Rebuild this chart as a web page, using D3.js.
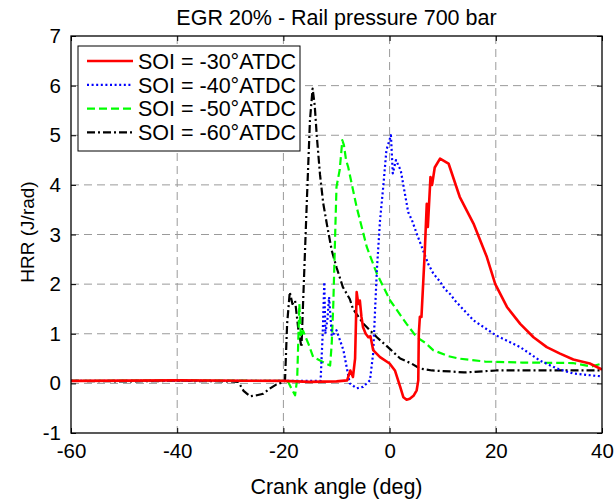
<!DOCTYPE html>
<html>
<head>
<meta charset="utf-8">
<script src="https://cdn.jsdelivr.net/npm/d3@7"></script>
<style>
  body { margin: 0; background: #fff; }
  text { font-family: "Liberation Sans", Arial, Helvetica, sans-serif; fill: #000; }
</style>
</head>
<body>
<div id="chart"></div>
<script>
// Crank angle (deg) / HRR (J/rad), one pair of arrays per SOI
var soi30Angle = [-60, -40, -20, -15, -10, -8.0, -7.4, -6.9, -6.5, -6.2, -5.9, -5.6, -5.3, -5.0, -4.5, -4.0, -3.6, -3.1, -1.8, 0, 1.0, 2.0, 2.6, 3.2, 3.8, 4.5, 5.1, 5.4, 5.5, 5.7, 6.0, 6.6, 7.0, 7.2, 7.7, 8.0, 8.5, 9.5, 11.1, 13.2, 15.8, 18.3, 19.9, 22.1, 24.6, 27.1, 29.6, 32.1, 34.6, 37.7, 40];
var soi30Hrr = [0.05, 0.06, 0.05, 0.03, 0.04, 0.06, 0.26, 0.13, 0.5, 1.84, 1.6, 1.67, 1.34, 1.13, 1.0, 0.93, 0.95, 0.67, 0.53, 0.4, 0.26, -0.07, -0.28, -0.33, -0.31, -0.25, -0.14, 0.06, 1.0, 1.34, 1.34, 2.6, 3.62, 3.15, 4.16, 4.0, 4.35, 4.53, 4.43, 3.76, 3.22, 2.55, 2.0, 1.54, 1.2, 0.93, 0.73, 0.6, 0.48, 0.4, 0.28];

var soi40Angle = [-60, -40, -20, -13, -12.6, -12.3, -12.1, -11.7, -11.4, -11.1, -10.9, -10.0, -8.7, -7.5, -6.2, -5.0, -3.7, -3.1, -2.4, -1.8, -1.2, -0.6, 0.25, 0.6, 1.2, 2.1, 3.5, 4.2, 5.1, 7.3, 8.2, 9.5, 10.4, 11.4, 12.3, 15.8, 20, 24.6, 28.3, 31.5, 34.5, 40];
var soi40Hrr = [0.05, 0.05, 0.05, 0.05, 1.0, 2.04, 1.0, 1.3, 1.74, 1.3, 0.95, 1.07, 0.67, 0.0, -0.1, -0.07, 0.06, 0.6, 2.28, 3.29, 3.96, 4.7, 5.0, 4.23, 4.5, 4.29, 3.45, 3.29, 3.02, 2.4, 2.22, 2.05, 1.9, 1.8, 1.67, 1.27, 0.97, 0.73, 0.46, 0.3, 0.2, 0.14];

var soi50Angle = [-60, -40, -20, -19.1, -18.5, -17.8, -17.4, -17.0, -16.7, -16.3, -15.3, -14.4, -13.1, -12, -11.2, -10.9, -10.6, -10.2, -10.0, -9.4, -8.9, -8.6, -8.2, -7.8, -6.2, -4.3, -2.4, 0.1, 3.2, 5.1, 6.7, 8.2, 11, 13, 18, 25, 34.5, 38, 40];
var soi50Hrr = [0.05, 0.06, 0.05, 0.03, -0.1, -0.24, 0.1, 1.6, 0.93, 1.06, 0.8, 0.53, 0.46, 0.4, 0.36, 0.8, 1.6, 3.2, 3.96, 4.3, 4.9, 4.8, 4.5, 4.36, 3.55, 2.75, 2.21, 1.67, 1.2, 0.93, 0.82, 0.67, 0.55, 0.5, 0.44, 0.42, 0.41, 0.34, 0.4];

var soi60Angle = [-60, -50, -40, -30, -28.5, -27.5, -26.3, -25, -23.8, -22.5, -21.3, -20.2, -19.7, -19.3, -18.8, -18.3, -17.8, -17.2, -16.6, -16.3, -15.6, -15.0, -14.5, -14.1, -13.7, -13.1, -12.5, -11.8, -10.9, -10.0, -8.8, -7.5, -6.9, -5.0, -2.4, 0, 2.0, 4.1, 5.7, 8, 11.4, 14, 20, 30, 40];
var soi60Hrr = [0.05, 0.04, 0.05, 0.04, 0.03, -0.15, -0.26, -0.24, -0.21, -0.1, -0.02, 0.02, 0.05, 1.2, 1.84, 1.6, 1.67, 1.1, 0.73, 1.6, 3.63, 5.3, 5.94, 5.6, 4.97, 4.2, 3.63, 3.2, 2.68, 2.34, 1.94, 1.7, 1.5, 1.21, 0.93, 0.7, 0.5, 0.4, 0.3, 0.26, 0.24, 0.22, 0.26, 0.26, 0.26];

var seriesNames = ["SOI = -30\u00b0ATDC", "SOI = -40\u00b0ATDC", "SOI = -50\u00b0ATDC", "SOI = -60\u00b0ATDC"];
var xTicks = [-60, -40, -20, 0, 20, 40];
var yTicks = [-1, 0, 1, 2, 3, 4, 5, 6, 7];

var width = 615, height = 499;
var margin = { top: 36, right: 13, bottom: 66, left: 71 };

var svg = d3.select("#chart").append("svg")
  .attr("width", width)
  .attr("height", height);

var x = d3.scaleLinear().domain([-60, 40]).range([margin.left, width - margin.right]);
var y = d3.scaleLinear().domain([-1, 7]).range([height - margin.bottom, margin.top]);

var series = [
  { name: seriesNames[0], angle: soi30Angle, hrr: soi30Hrr, color: "#ff0000", width: 2.6, dash: null },
  { name: seriesNames[1], angle: soi40Angle, hrr: soi40Hrr, color: "#0000ff", width: 2.2, dash: "2,2.6" },
  { name: seriesNames[2], angle: soi50Angle, hrr: soi50Hrr, color: "#00ff00", width: 2.2, dash: "8,4" },
  { name: seriesNames[3], angle: soi60Angle, hrr: soi60Hrr, color: "#000000", width: 2.2, dash: "8,3,2,3" }
];

// grid
svg.append("g")
  .selectAll("line.vgrid")
  .data(xTicks.slice(1, -1))
  .enter().append("line")
  .attr("x1", d => x(d)).attr("x2", d => x(d))
  .attr("y1", y(7)).attr("y2", y(-1))
  .attr("stroke", "#9a9a9a").attr("stroke-dasharray", "8,5");
svg.append("g")
  .selectAll("line.hgrid")
  .data(yTicks.slice(1, -1))
  .enter().append("line")
  .attr("x1", x(-60)).attr("x2", x(40))
  .attr("y1", d => y(d)).attr("y2", d => y(d))
  .attr("stroke", "#9a9a9a").attr("stroke-dasharray", "8,5");

// curves
var line = d3.line()
  .x(d => x(d[0]))
  .y(d => y(d[1]));

svg.append("defs").append("clipPath").attr("id", "clip")
  .append("rect")
  .attr("x", x(-60)).attr("y", y(7))
  .attr("width", x(40) - x(-60)).attr("height", y(-1) - y(7));

series.slice().reverse().forEach(function (s) {
  var pts = s.angle.map((a, i) => [a, s.hrr[i]]);
  svg.append("path")
    .datum(pts)
    .attr("clip-path", "url(#clip)")
    .attr("fill", "none")
    .attr("stroke", s.color)
    .attr("stroke-width", s.width)
    .attr("stroke-dasharray", s.dash)
    .attr("stroke-linejoin", "round")
    .attr("d", line);
});

// axes with inward ticks on all four sides, plain hyphen for minus
var tickLen = 5;
var fmt = d => String(d);
svg.append("g")
  .attr("transform", "translate(0," + y(-1) + ")")
  .call(d3.axisBottom(x).tickValues(xTicks).tickSize(-tickLen).tickPadding(10).tickFormat(fmt))
  .call(g => g.select(".domain").remove())
  .selectAll("text").style("font-size", "20.5px");
svg.append("g")
  .attr("transform", "translate(0," + y(7) + ")")
  .call(d3.axisTop(x).tickValues(xTicks).tickSize(-tickLen).tickFormat(""))
  .call(g => g.select(".domain").remove());
svg.append("g")
  .attr("transform", "translate(" + x(-60) + ",0)")
  .call(d3.axisLeft(y).tickValues(yTicks).tickSize(-tickLen).tickPadding(10).tickFormat(fmt))
  .call(g => g.select(".domain").remove())
  .selectAll("text").style("font-size", "20.5px");
svg.append("g")
  .attr("transform", "translate(" + x(40) + ",0)")
  .call(d3.axisRight(y).tickValues(yTicks).tickSize(-tickLen).tickFormat(""))
  .call(g => g.select(".domain").remove());

svg.selectAll(".tick line").attr("stroke", "#000");
svg.selectAll(".tick text").style("font-family", "'Liberation Sans', Arial, sans-serif");

svg.append("rect")
  .attr("x", x(-60)).attr("y", y(7))
  .attr("width", x(40) - x(-60)).attr("height", y(-1) - y(7))
  .attr("fill", "none").attr("stroke", "#000").attr("stroke-width", 1.3);

// title and labels
svg.append("text")
  .attr("x", (x(-60) + x(40)) / 2).attr("y", 25)
  .attr("text-anchor", "middle")
  .style("font-size", "21.5px")
  .text("EGR 20% - Rail pressure 700 bar");
svg.append("text")
  .attr("x", (x(-60) + x(40)) / 2).attr("y", 494)
  .attr("text-anchor", "middle")
  .style("font-size", "21.5px")
  .text("Crank angle (deg)");
svg.append("text")
  .attr("transform", "translate(34," + 232 + ") rotate(-90)")
  .attr("text-anchor", "middle")
  .style("font-size", "19px")
  .text("HRR (J/rad)");

// legend
var legend = svg.append("g").attr("transform", "translate(78,46)");
legend.append("rect")
  .attr("width", 222).attr("height", 105)
  .attr("fill", "#fff").attr("stroke", "#000").attr("stroke-width", 1);
var rows = legend.selectAll("g.row")
  .data(series)
  .enter().append("g")
  .attr("transform", (d, i) => "translate(0," + (15 + i * 23.8) + ")");
rows.append("line")
  .attr("x1", 9).attr("x2", 55)
  .attr("y1", 0).attr("y2", 0)
  .attr("stroke", d => d.color)
  .attr("stroke-width", d => d.width)
  .attr("stroke-dasharray", d => d.dash);
rows.append("text")
  .attr("x", 60).attr("y", 0).attr("dy", "0.36em")
  .style("font-size", "21.5px")
  .text(d => d.name);
</script>
</body>
</html>
